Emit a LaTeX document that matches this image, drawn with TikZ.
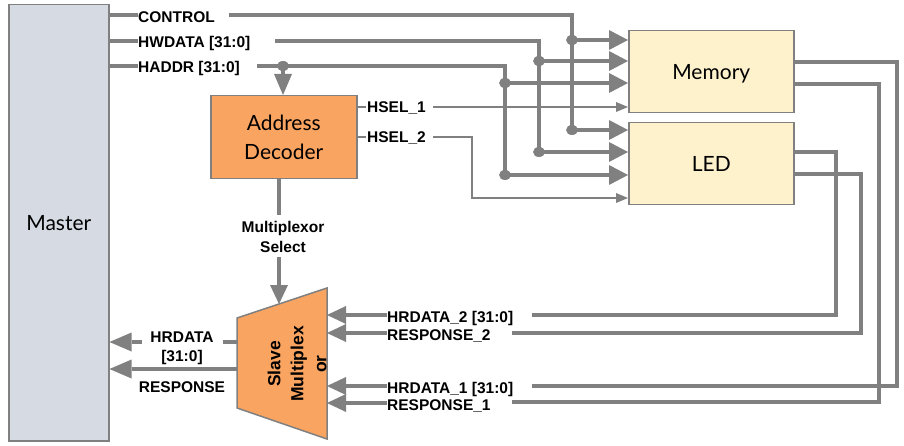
\documentclass[tikz,border=0pt]{standalone}
\usepackage{fontspec}
\setmainfont{Liberation Sans}
\newfontfamily\boxfont{Lato}
\usetikzlibrary{arrows.meta}
\definecolor{ln}{HTML}{808080}
\definecolor{mfill}{HTML}{D5DAE3}
\definecolor{ofill}{HTML}{FAA461}
\definecolor{yfill}{HTML}{FEF2CD}
\begin{document}
\begin{tikzpicture}[x=1pt,y=-1pt,
  bus/.style={draw=ln, line width=3.8pt},
  busarrow/.style={bus, -{Triangle[length=19pt,width=20pt,line width=0pt]}},
  muxarrow/.style={bus, -{Triangle[length=19pt,width=18pt,line width=0pt]}},
  bigarrow/.style={bus, -{Triangle[length=22pt,width=19pt,line width=0pt]}},
  sig/.style={draw=ln, line width=1.3pt},
  sigarrow/.style={sig, -{Triangle[length=12pt,width=10pt,line width=0pt]}},
  lbl/.style={font=\fontsize{15.5}{19}\selectfont\bfseries, inner sep=0pt, anchor=base west},
  clbl/.style={font=\fontsize{15.5}{19}\selectfont\bfseries, inner sep=0pt, anchor=base},
  blk/.style={draw=ln, line width=1.5pt, inner sep=0pt, anchor=north west,
    font=\boxfont\fontsize{21}{29}\selectfont, align=center},
  jdot/.style={fill=ln}
]
\useasboundingbox (0,0) rectangle (904,446);

% blocks
\node[blk, fill=mfill, minimum width=100pt, minimum height=436pt] (master) at (8,4) {Master};
\node[blk, fill=yfill, minimum width=165pt, minimum height=82pt, text depth=0pt] (mem) at (628,30) {Memory};
\node[blk, fill=yfill, minimum width=165pt, minimum height=82pt] (led) at (628,122) {LED};
\node[blk, fill=ofill, minimum width=146pt, minimum height=83pt] (dec) at (210,95) {Address\\Decoder};

% multiplexor
\coordinate (mTL) at (237,318);
\coordinate (mTR) at (327,288);
\coordinate (mBR) at (327,439);
\coordinate (mBL) at (237,408);
\draw[draw=ln, fill=ofill, line width=1.5pt] (mTL) -- (mTR) -- (mBR) -- (mBL) -- cycle;
\node[font=\fontsize{17.5}{23}\selectfont\bfseries, rotate=90, align=center, inner sep=0pt] (mux) at (297,364) {Slave\\Multiplex\\or};

% HSEL signals (thin)
\coordinate (h1a) at (366,107);
\coordinate (h1b) at (433,107);
\node[lbl] (hsel1) at (367,112.5) {HSEL\_1};
\draw[sig] (h1a -| dec.east) -- (h1a);
\draw[sigarrow] (h1b) -- (h1b -| mem.west);
\coordinate (h2a) at (366,137);
\coordinate (h2b) at (433,137);
\coordinate (h2c) at (472,137);
\coordinate (h2d) at (472,198);
\node[lbl] (hsel2) at (367,142.5) {HSEL\_2};
\draw[sig] (h2a -| dec.east) -- (h2a);
\draw[sigarrow] (h2b) -- (h2c) -- (h2d) -- (h2d -| led.west);

% CONTROL
\coordinate (ctlL) at (138,15);
\coordinate (ctlR) at (229,15);
\coordinate (ctlC) at (572,15);
\coordinate (ctlM) at (572,40);
\coordinate (ctlD) at (572,130);
\node[lbl] (ctl) at (138,23) {CONTROL};
\draw[bus] (ctlL -| master.east) -- (ctlL);
\draw[bus] (ctlR) -- (ctlC) -- (ctlD);
\draw[busarrow] (ctlM) -- (ctlM -| mem.west);
\draw[busarrow] (ctlD) -- (ctlD -| led.west);
\fill[jdot] (ctlM) ellipse [x radius=6pt, y radius=5pt];
\fill[jdot] (ctlD) ellipse [x radius=6pt, y radius=5pt];

% HWDATA
\coordinate (hwL) at (138,41);
\coordinate (hwR) at (275,41);
\coordinate (hwC) at (539,41);
\coordinate (hwM) at (539,61);
\coordinate (hwD) at (539,152);
\node[lbl] (hw) at (138,48) {HWDATA [31:0]};
\draw[bus] (hwL -| master.east) -- (hwL);
\draw[bus] (hwR) -- (hwC) -- (hwD);
\draw[busarrow] (hwM) -- (hwM -| mem.west);
\draw[busarrow] (hwD) -- (hwD -| led.west);
\fill[jdot] (hwM) ellipse [x radius=6pt, y radius=5pt];
\fill[jdot] (hwD) ellipse [x radius=6pt, y radius=5pt];

% HADDR
\coordinate (haL) at (138,66);
\coordinate (haR) at (257,66);
\coordinate (haT) at (283,66);
\coordinate (haC) at (505,66);
\coordinate (haM) at (505,83);
\coordinate (haD) at (505,175);
\node[lbl] (ha) at (138,72.5) {HADDR [31:0]};
\draw[bus] (haL -| master.east) -- (haL);
\draw[bus] (haR) -- (haC) -- (haD);
\draw[busarrow] (haM) -- (haM -| mem.west);
\draw[busarrow] (haD) -- (haD -| led.west);
\draw[bus, -{Triangle[length=21pt,width=18pt,line width=0pt]}] (haT) -- (haT |- dec.north);
\fill[jdot] (haT) ellipse [x radius=6pt, y radius=5pt];
\fill[jdot] (haM) ellipse [x radius=6pt, y radius=5pt];
\fill[jdot] (haD) ellipse [x radius=6pt, y radius=5pt];

% Multiplexor select
\coordinate (selA) at (279,178);
\coordinate (selB) at (279,215);
\coordinate (selC) at (279,257);
\coordinate (selD) at (279,304);
\node[clbl] (sel1) at (283,233) {Multiplexor};
\node[clbl] (sel2) at (283,252) {Select};
\draw[bus] (selA) -- (selB);
\draw[muxarrow] (selC) -- (selD);

% slave responses (memory = slave 1, LED = slave 2)
\coordinate (m1a) at (897,62);
\coordinate (m1b) at (897,386);
\coordinate (m1c) at (532,386);
\coordinate (m2a) at (879,84);
\coordinate (m2b) at (879,402);
\coordinate (m2c) at (512,402);
\coordinate (l1a) at (836,152);
\coordinate (l1b) at (836,315);
\coordinate (l1c) at (532,315);
\coordinate (l2a) at (861,174);
\coordinate (l2b) at (861,333);
\coordinate (l2c) at (512,333);
\draw[bus] (l1a -| led.east) -- (l1a) -- (l1b) -- (l1c);
\draw[bus] (l2a -| led.east) -- (l2a) -- (l2b) -- (l2c);
\draw[bus] (m1a -| mem.east) -- (m1a) -- (m1b) -- (m1c);
\draw[bus] (m2a -| mem.east) -- (m2a) -- (m2b) -- (m2c);

\node[lbl] (hr2) at (387,322.5) {HRDATA\_2 [31:0]};
\node[lbl] (rs2) at (387,340.5) {RESPONSE\_2};
\node[lbl] (hr1) at (387,393) {HRDATA\_1 [31:0]};
\node[lbl] (rs1) at (387,410) {RESPONSE\_1};
\coordinate (hr2a) at (387,315);
\coordinate (rs2a) at (387,333);
\coordinate (hr1a) at (387,386);
\coordinate (rs1a) at (387,403);
\draw[muxarrow] (hr2a) -- (hr2a -| mTR);
\draw[muxarrow] (rs2a) -- (rs2a -| mTR);
\draw[muxarrow] (hr1a) -- (hr1a -| mTR);
\draw[muxarrow] (rs1a) -- (rs1a -| mTR);

% outputs to master
\coordinate (hrM) at (237,342);
\coordinate (hrG) at (223,342);
\coordinate (hrL) at (142,342);
\coordinate (rsM) at (237,369);
\node[clbl] (hrt1) at (182,342) {HRDATA};
\node[clbl] (hrt2) at (182,361) {[31:0]};
\node[clbl] (rst) at (182,392) {RESPONSE};
\draw[bus] (hrM) -- (hrG);
\draw[bigarrow] (hrL) -- (hrL -| master.east);
\draw[bigarrow] (rsM) -- (rsM -| master.east);
\end{tikzpicture}
\end{document}
